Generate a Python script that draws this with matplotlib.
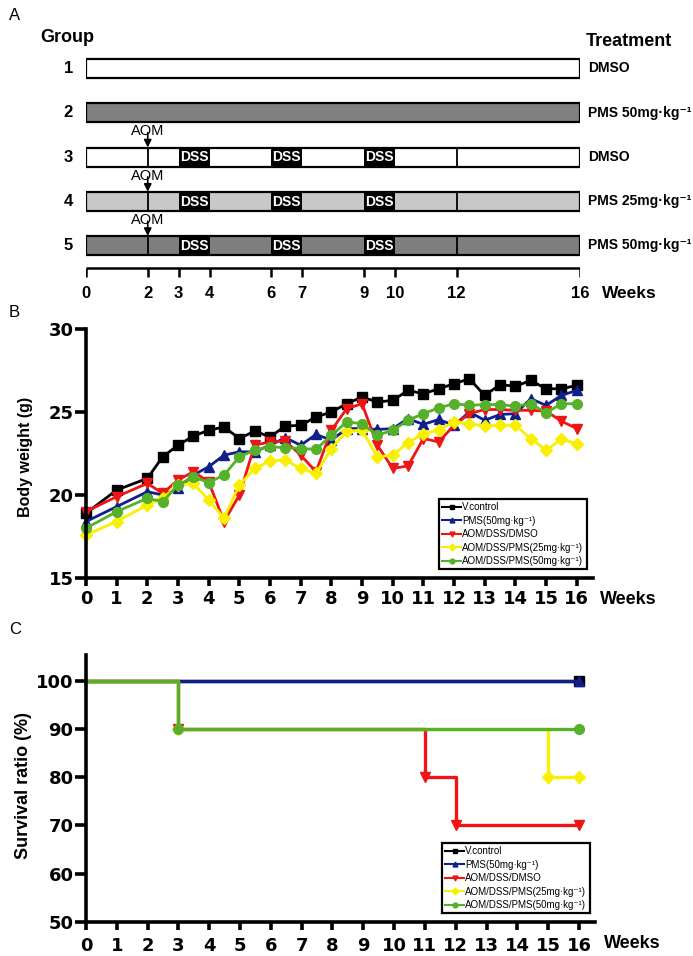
import matplotlib
matplotlib.use('Agg')
import matplotlib.pyplot as plt
from matplotlib.lines import Line2D

plt.rcParams['font.family'] = ['Liberation Sans', 'DejaVu Sans']

W, H = 693, 956
fig = plt.figure(figsize=(W / 100, H / 100), dpi=100)

# ---------------- Panel A data ----------------
group_ids = ['1', '2', '3', '4', '5']
treatments = ['DMSO', 'PMS 50mg·kg⁻¹', 'DMSO', 'PMS 25mg·kg⁻¹', 'PMS 50mg·kg⁻¹']
bar_colors = ['white', '#808080', 'white', '#c8c8c8', '#7e7e7e']
aom_groups = [3, 4, 5]
aom_week = 2
dss_periods = [(3, 4), (6, 7), (9, 10)]
divider_weeks = [2, 12]
schedule_ticks = [0, 2, 3, 4, 6, 7, 9, 10, 12, 16]
total_weeks = 16

# ---------------- Panel B data ----------------
bw_weeks = [0, 1, 2, 2.5, 3, 3.5, 4, 4.5, 5, 5.5, 6, 6.5, 7, 7.5, 8, 8.5, 9,
            9.5, 10, 10.5, 11, 11.5, 12, 12.5, 13, 13.5, 14, 14.5, 15, 15.5, 16]
bw_control = [18.9, 20.3, 21.0, 22.3, 23.0, 23.55, 23.9, 24.1, 23.4, 23.85, 23.5,
              24.15, 24.2, 24.7, 25.0, 25.5, 25.9, 25.6, 25.7, 26.3, 26.1, 26.4,
              26.7, 27.0, 26.0, 26.65, 26.55, 26.9, 26.4, 26.4, 26.6]
bw_pms50 = [18.4, 19.3, 20.2, 20.0, 20.4, 21.2, 21.7, 22.4, 22.6, 22.6, 23.0,
            23.45, 23.0, 23.65, 23.3, 24.0, 24.0, 23.95, 24.0, 24.6, 24.25, 24.55,
            24.2, 25.0, 24.5, 24.85, 24.9, 25.8, 25.4, 26.0, 26.3]
bw_dmso = [19.0, 19.9, 20.7, 20.1, 20.9, 21.4, 20.8, 18.4, 20.0, 23.0, 23.2,
           23.25, 22.4, 21.4, 23.9, 25.2, 25.5, 23.0, 21.6, 21.75, 23.4, 23.2,
           24.2, 24.9, 25.15, 25.15, 25.1, 25.1, 25.05, 24.45, 24.0]
bw_aom_pms25 = [17.6, 18.4, 19.4, 19.8, 20.6, 20.7, 19.7, 18.6, 20.6, 21.6, 22.05,
                22.1, 21.6, 21.3, 22.8, 23.85, 23.9, 22.3, 22.4, 23.15, 23.7, 23.9,
                24.4, 24.3, 24.15, 24.2, 24.2, 23.4, 22.7, 23.35, 23.1]
bw_aom_pms50 = [18.0, 19.0, 19.8, 19.6, 20.6, 21.1, 20.75, 21.2, 22.3, 22.7, 22.9,
                22.85, 22.8, 22.75, 23.6, 24.4, 24.3, 23.6, 23.9, 24.5, 24.9, 25.25,
                25.5, 25.4, 25.45, 25.45, 25.35, 25.5, 24.95, 25.5, 25.5]

# ---------------- Panel C data ----------------
surv_control_t = [0, 16]
surv_control_v = [100, 100]
surv_pms50_t = [0, 16]
surv_pms50_v = [100, 100]
surv_dmso_t = [0, 3, 11, 12, 16]
surv_dmso_v = [100, 90, 80, 70, 70]
surv_aom_pms25_t = [0, 3, 15, 16]
surv_aom_pms25_v = [100, 90, 80, 80]
surv_aom_pms50_t = [0, 3, 16]
surv_aom_pms50_v = [100, 90, 90]

series_labels = ['V.control', 'PMS(50mg·kg⁻¹)', 'AOM/DSS/DMSO',
                 'AOM/DSS/PMS(25mg·kg⁻¹)', 'AOM/DSS/PMS(50mg·kg⁻¹)']
series_colors = ['#000000', '#101f8c', '#ee1515', '#f8f000', '#55b12a']
series_markers = ['s', '^', 'v', 'D', 'o']
week_ticks = list(range(0, 17))

# ================= Panel A =================
row_px0, row_step = 68.5, 44.25
axA = fig.add_axes([86 / W, 1 - 310 / H, 494 / W, 310 / H])
axA.set_xlim(0, total_weeks)
axA.set_ylim(1 + (310 - row_px0) / row_step, 1 - row_px0 / row_step)
axA.axis('off')
bh = 19 / row_step
rows = [int(g) for g in group_ids]
axA.barh(rows, [total_weeks] * len(rows), left=0, height=bh,
         color=bar_colors, edgecolor='black', linewidth=1.6, zorder=1)
for r, gid, tr in zip(rows, group_ids, treatments):
    axA.text(-0.42, r, gid, ha='right', va='center', fontsize=12, fontweight='bold')
    axA.text(total_weeks + 0.26, r, tr, ha='left', va='center', fontsize=10,
             fontweight='bold')
for r in aom_groups:
    for s, e in dss_periods:
        axA.barh(r, e - s, left=s, height=bh, color='black', zorder=2)
        axA.text((s + e) / 2, r + 0.01, 'DSS', ha='center', va='center',
                 color='white', fontsize=10, fontweight='bold', zorder=3)
    axA.vlines(divider_weeks, r - bh / 2, r + bh / 2, color='black', lw=1.3, zorder=3)
    axA.text(aom_week, r - 0.58, 'AOM', ha='center', va='center', fontsize=10.5)
    axA.annotate('', xy=(aom_week, r - bh / 2), xytext=(aom_week, r - 0.55),
                 arrowprops=dict(arrowstyle='-|>', color='black', lw=1.2,
                                 mutation_scale=11, shrinkA=0, shrinkB=0))
ty = 1 + (268 - row_px0) / row_step
axA.hlines(ty, 0, total_weeks, color='black', lw=1.8)
axA.vlines(schedule_ticks, ty, ty + 9 / row_step, color='black', lw=1.8)
lab_y = 1 + (293 - row_px0) / row_step
for t in schedule_ticks:
    axA.text(t, lab_y, str(t), ha='center', va='center', fontsize=12, fontweight='bold')
axA.text(16.71, lab_y, 'Weeks', ha='left', va='center', fontsize=12.5, fontweight='bold')
axA.text(-1.49, 1 + (38 - row_px0) / row_step, 'Group', ha='left', va='center',
         fontsize=13, fontweight='bold')
axA.text(16.19, 1 + (42 - row_px0) / row_step, 'Treatment', ha='left', va='center',
         fontsize=13, fontweight='bold')
fig.text(9 / W, 1 - 15 / H, 'A', ha='left', va='center', fontsize=12)
fig.text(9 / W, 1 - 312 / H, 'B', ha='left', va='center', fontsize=12)
fig.text(9 / W, 1 - 630 / H, 'C', ha='left', va='center', fontsize=12)


def style_axis(ax, xlab_pad):
    for sp in ['top', 'right']:
        ax.spines[sp].set_visible(False)
    for sp in ['left', 'bottom']:
        ax.spines[sp].set_linewidth(2.6)
    ax.tick_params(axis='x', length=6, width=2.6, pad=xlab_pad)
    ax.tick_params(axis='y', length=8, width=2.6, pad=1)
    for lbl in ax.get_xticklabels() + ax.get_yticklabels():
        lbl.set_fontfamily('DejaVu Sans')
        lbl.set_fontweight('bold')
        lbl.set_fontsize(13)


def make_legend(ax, x0, y0):
    handles = [Line2D([], [], color=c, marker=m, lw=1.5, ms=3.5)
               for c, m in zip(series_colors, series_markers)]
    leg = ax.legend(handles, series_labels, loc='upper left',
                    bbox_to_anchor=(x0 / W, 1 - y0 / H), bbox_transform=fig.transFigure,
                    fontsize=7, frameon=True, fancybox=False, framealpha=1,
                    edgecolor='black', borderpad=0.35, labelspacing=0.35,
                    handlelength=1.9, handletextpad=0.15, borderaxespad=0)
    leg.get_frame().set_linewidth(1.6)


# ================= Panel B =================
axB = fig.add_axes([86 / W, 1 - 578 / H, 507 / W, 249 / H])
bw_series = [bw_control, bw_pms50, bw_dmso, bw_aom_pms25, bw_aom_pms50]
for vals, c, m in zip(bw_series, series_colors, series_markers):
    axB.plot(bw_weeks, vals, color=c, marker=m, ms=7 if m != 'D' else 6,
             lw=2.0, clip_on=False)
axB.set_xlim(0, 16.53)
axB.set_ylim(15, 30)
axB.set_xticks(week_ticks)
axB.set_yticks([15, 20, 25, 30])
style_axis(axB, 2.5)
axB.set_ylabel('Body weight (g)', fontsize=11.5, fontweight='bold')
axB.yaxis.set_label_coords(-0.104, 0.486)
axB.text(1.014, -0.088, 'Weeks', transform=axB.transAxes, ha='left', va='center',
         fontsize=13, fontweight='bold')
make_legend(axB, 439, 499)

# ================= Panel C =================
axC = fig.add_axes([86 / W, 1 - 922 / H, 509 / W, 267 / H])
surv_series = [(surv_control_t, surv_control_v), (surv_pms50_t, surv_pms50_v),
               (surv_dmso_t, surv_dmso_v), (surv_aom_pms25_t, surv_aom_pms25_v),
               (surv_aom_pms50_t, surv_aom_pms50_v)]
for (t, v), c, m in zip(surv_series, series_colors, series_markers):
    axC.step(t, v, where='post', color=c, lw=2.4, clip_on=False)
    axC.plot(t[1:], v[1:], ls='none', color=c, marker=m, ms=7 if m != 'D' else 6,
             clip_on=False)
axC.set_xlim(0, 16.52)
axC.set_ylim(50, 105.3)
axC.set_xticks(week_ticks)
axC.set_yticks([50, 60, 70, 80, 90, 100])
style_axis(axC, 5)
axC.set_ylabel('Survival ratio (%)', fontsize=13, fontweight='bold')
axC.yaxis.set_label_coords(-0.106, 0.513)
axC.text(1.018, -0.08, 'Weeks', transform=axC.transAxes, ha='left', va='center',
         fontsize=13, fontweight='bold')
make_legend(axC, 442, 843)

fig.savefig('out.png', dpi=100)
